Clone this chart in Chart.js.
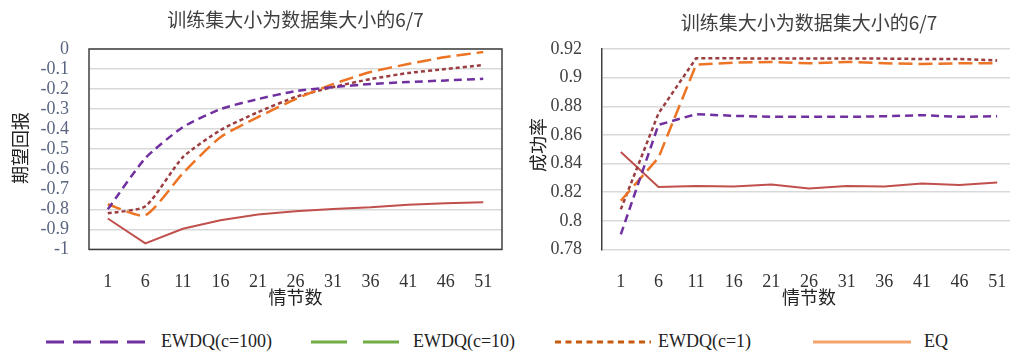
<!DOCTYPE html>
<html>
<head>
<meta charset="utf-8">
<script src="https://cdn.jsdelivr.net/npm/chart.js@4"></script>
<style>
  html, body { margin: 0; padding: 0; background: #fff; }
  body { width: 1010px; height: 351px; position: relative; overflow: hidden; }
  #left { position: absolute; left: 0; top: 0; width: 505px; height: 315px; }
  #rightWrap { position: absolute; left: 505px; top: 0; width: 505px; height: 315px; overflow: hidden; }
  #right { position: absolute; left: 0; top: 0; width: 511px; height: 315px; }
  .lg { position: absolute; top: 330px; height: 24px; }
  .lgText { position: absolute; top: 330px; font: 18px "Liberation Serif", serif; color: #222; line-height: 22px; }
</style>
</head>
<body>
<div id="left"><canvas id="c1"></canvas></div>
<div id="rightWrap"><div id="right"><canvas id="c2"></canvas></div></div>

<svg class="lg" style="left:44px" width="104" height="24"><line x1="2" y1="12" x2="102" y2="12" stroke="#7030A0" stroke-width="3" stroke-dasharray="18,9"/></svg>
<div class="lgText" style="left:161px">EWDQ(c=100)</div>
<svg class="lg" style="left:309px" width="92" height="24"><line x1="2" y1="12" x2="90" y2="12" stroke="#70AD47" stroke-width="3" stroke-dasharray="36,16"/></svg>
<div class="lgText" style="left:413px">EWDQ(c=10)</div>
<svg class="lg" style="left:553px" width="100" height="24"><line x1="2" y1="12" x2="98" y2="12" stroke="#C55A11" stroke-width="3" stroke-dasharray="6,4.5"/></svg>
<div class="lgText" style="left:658px">EWDQ(c=1)</div>
<svg class="lg" style="left:811px" width="102" height="24"><line x1="2" y1="12" x2="100" y2="12" stroke="#F4A46A" stroke-width="3"/></svg>
<div class="lgText" style="left:924px">EQ</div>

<script>
const episodes = ['1', '6', '11', '16', '21', '26', '31', '36', '41', '46', '51'];

// 期望回报
const returnC100 = [-0.80, -0.545, -0.39, -0.30, -0.25, -0.21, -0.19, -0.175, -0.165, -0.157, -0.149];
const returnC10  = [-0.775, -0.83, -0.62, -0.44, -0.34, -0.25, -0.175, -0.115, -0.075, -0.04, -0.015];
const returnC1   = [-0.82, -0.785, -0.54, -0.405, -0.315, -0.24, -0.19, -0.15, -0.12, -0.10, -0.08];
const returnEQ   = [-0.846, -0.97, -0.897, -0.855, -0.826, -0.81, -0.798, -0.79, -0.777, -0.77, -0.765];

// 成功率
const successC100 = [0.7905, 0.867, 0.8745, 0.8733, 0.8726, 0.8726, 0.8726, 0.873, 0.8738, 0.8726, 0.873];
const successC10  = [0.814, 0.844, 0.909, 0.9105, 0.911, 0.910, 0.911, 0.910, 0.9095, 0.910, 0.910];
const successC1   = [0.808, 0.875, 0.9135, 0.9135, 0.9133, 0.9133, 0.9133, 0.9133, 0.913, 0.913, 0.912];
const successEQ   = [0.848, 0.8236, 0.8243, 0.824, 0.8253, 0.8225, 0.8243, 0.824, 0.826, 0.825, 0.8267];

const titleText = '训练集大小为数据集大小的6/7';
const cjk = '"Noto Sans CJK SC", "Noto Sans", sans-serif';
const serif = 'Liberation Serif';

function makeSeries(c100, c10, c1, eq, tension) {
  return [
    { label: 'EWDQ(c=100)', data: c100, borderColor: '#7030A0', borderWidth: 2.5, borderDash: [8, 5], tension: tension },
    { label: 'EWDQ(c=10)', data: c10, borderColor: '#EC7424', borderWidth: 2.5, borderDash: [14, 6], tension: tension },
    { label: 'EWDQ(c=1)', data: c1, borderColor: '#9B3E42', borderWidth: 2.5, borderDash: [4, 3], tension: tension },
    { label: 'EQ', data: eq, borderColor: '#C0504D', borderWidth: 2, tension: 0 }
  ];
}

// frame, titles and axis names drawn around the chart area
const decoPlugin = {
  id: 'deco',
  afterDraw(chart, args, opts) {
    const a = chart.chartArea;
    const ctx = chart.ctx;
    const cx = (a.left + a.right) / 2;
    ctx.save();
    if (opts.boxed) {
      ctx.strokeStyle = '#404040';
      ctx.lineWidth = 1.5;
      ctx.strokeRect(a.left, a.top, a.right - a.left, a.bottom - a.top);
    }
    ctx.textAlign = 'center';
    ctx.textBaseline = 'middle';
    ctx.fillStyle = '#404040';
    ctx.font = '19px ' + cjk;
    ctx.fillText(titleText, cx, opts.titleY);
    ctx.fillStyle = '#222';
    ctx.font = '18px ' + cjk;
    ctx.fillText('情节数', cx, 297);
    ctx.translate(opts.yTitleX, opts.yTitleY);
    ctx.rotate(-Math.PI / 2);
    ctx.fillText(opts.yTitle, 0, 0);
    ctx.restore();
  }
};

function makeChart(id, datasets, yOpts, deco, yWidth) {
  return new Chart(document.getElementById(id), {
    type: 'line',
    data: { labels: episodes, datasets: datasets },
    plugins: [decoPlugin],
    options: {
      responsive: true,
      maintainAspectRatio: false,
      animation: false,
      elements: { point: { radius: 0 } },
      layout: { padding: { top: 49, right: deco.boxed ? 3 : 0, bottom: 0, left: 0 } },
      plugins: {
        legend: { display: false },
        tooltip: { enabled: false },
        title: { display: false },
        deco: deco
      },
      scales: {
        x: {
          offset: true,
          grid: { display: false, drawTicks: false },
          border: { display: false },
          ticks: { color: '#333', font: { family: serif, size: 18 }, padding: 22, maxRotation: 0, autoSkip: false },
          afterFit(scale) { scale.paddingLeft = 0; scale.paddingRight = 0; }
        },
        y: Object.assign({
          grid: { color: '#D9D9D9', lineWidth: 1.5, drawTicks: false },
          border: { display: !deco.boxed, color: '#404040', width: 1.5 },
          afterFit(scale) { scale.width = yWidth; }
        }, yOpts)
      }
    }
  });
}

function build() {
  makeChart('c1', makeSeries(returnC100, returnC10, returnC1, returnEQ, 0.2), {
    min: -1, max: 0,
    ticks: { stepSize: 0.1, autoSkip: false, color: '#5A6680', font: { family: serif, size: 18, lineHeight: 1 }, padding: 20,
      callback: v => String(Math.round(v * 10) / 10) }
  }, { boxed: true, titleY: 20, yTitle: '期望回报', yTitleX: 20, yTitleY: 148 }, 89);

  makeChart('c2', makeSeries(successC100, successC10, successC1, successEQ, 0), {
    min: 0.78, max: 0.92,
    ticks: { stepSize: 0.02, autoSkip: false, color: '#404040', font: { family: serif, size: 18, lineHeight: 1 }, padding: 20,
      callback: v => String(Math.round(v * 100) / 100) }
  }, { boxed: false, titleY: 23, yTitle: '成功率', yTitleX: 33, yTitleY: 145 }, 97);
}

if (document.fonts && document.fonts.load) {
  Promise.all([
    document.fonts.load('18px "Liberation Serif"'),
    document.fonts.load('18px "Noto Sans CJK SC"', '情')
  ]).then(build, build);
} else {
  build();
}
</script>
</body>
</html>
